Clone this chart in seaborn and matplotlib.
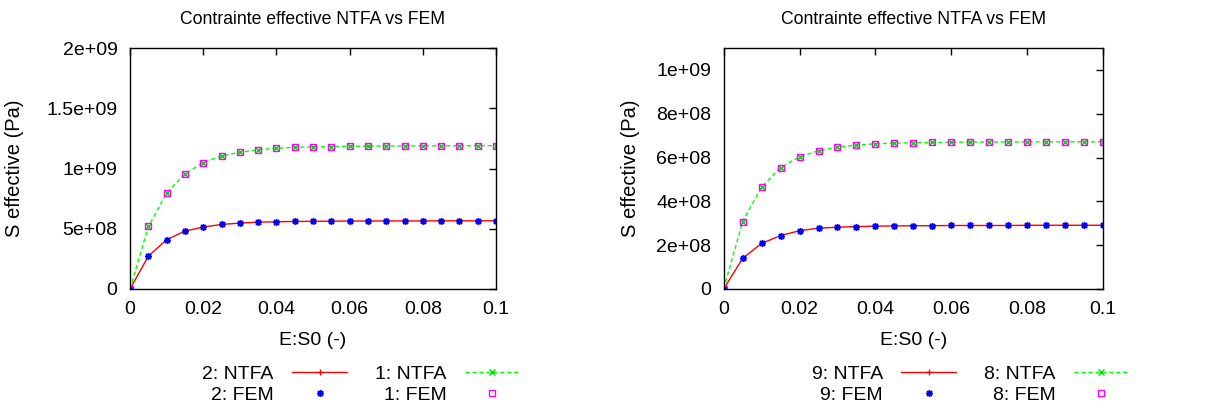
import seaborn as sns
import matplotlib.pyplot as plt
import numpy as np


# Donnees (deformation E:S0 et contrainte effective en Pa)

strain = [0.0, 0.005, 0.01, 0.015, 0.02, 0.025, 0.03, 0.035, 0.04, 0.045, 0.05,
          0.055, 0.06, 0.065, 0.07, 0.075, 0.08, 0.085, 0.09, 0.095, 0.1]

# panneau gauche : grains 2 et 1
ntfa_2 = [0, 0.273, 0.409, 0.481, 0.514, 0.536, 0.547, 0.555, 0.558, 0.561, 0.562,
          0.563, 0.564, 0.564, 0.565, 0.565, 0.565, 0.566, 0.566, 0.566, 0.566]
fem_2 = [0, 0.273, 0.409, 0.481, 0.514, 0.536, 0.547, 0.555, 0.558, 0.561, 0.562,
         0.563, 0.564, 0.564, 0.565, 0.565, 0.565, 0.566, 0.566, 0.566, 0.566]
ntfa_1 = [0, 0.519, 0.796, 0.956, 1.050, 1.105, 1.135, 1.155, 1.168, 1.177, 1.180,
          1.183, 1.185, 1.186, 1.187, 1.188, 1.188, 1.189, 1.189, 1.190, 1.190]
fem_1 = [0, 0.519, 0.796, 0.956, 1.050, 1.105, 1.135, 1.155, 1.168, 1.177, 1.180,
         1.183, 1.185, 1.186, 1.187, 1.188, 1.188, 1.189, 1.189, 1.190, 1.190]

# panneau droit : grains 9 et 8
ntfa_9 = [0, 0.140, 0.208, 0.244, 0.266, 0.278, 0.282, 0.285, 0.287, 0.288, 0.289,
          0.289, 0.290, 0.290, 0.290, 0.290, 0.291, 0.291, 0.291, 0.291, 0.291]
fem_9 = [0, 0.140, 0.208, 0.244, 0.266, 0.278, 0.282, 0.285, 0.287, 0.288, 0.289,
         0.289, 0.290, 0.290, 0.290, 0.290, 0.291, 0.291, 0.291, 0.291, 0.291]
ntfa_8 = [0, 0.308, 0.466, 0.554, 0.604, 0.631, 0.648, 0.657, 0.663, 0.666, 0.668,
          0.669, 0.670, 0.671, 0.671, 0.671, 0.672, 0.672, 0.672, 0.672, 0.672]
fem_8 = [0, 0.308, 0.466, 0.554, 0.604, 0.631, 0.648, 0.657, 0.663, 0.666, 0.668,
         0.669, 0.670, 0.671, 0.671, 0.671, 0.672, 0.672, 0.672, 0.672, 0.672]

xticks = [0, 0.02, 0.04, 0.06, 0.08, 0.1]
xtick_labels = ["0", "0.02", "0.04", "0.06", "0.08", "0.1"]
yticks_left = [0, 0.5e9, 1e9, 1.5e9, 2e9]
ytick_labels_left = ["0", "5e+08", "1e+09", "1.5e+09", "2e+09"]
yticks_right = [0, 2e8, 4e8, 6e8, 8e8, 1e9]
ytick_labels_right = ["0", "2e+08", "4e+08", "6e+08", "8e+08", "1e+09"]

title = "Contrainte effective NTFA vs FEM"


sns.set_theme(style="white")
plt.rcParams["font.family"] = ["Liberation Sans", "DejaVu Sans"]
plt.rcParams["text.color"] = "black"
plt.rcParams["axes.labelcolor"] = "black"
plt.rcParams["xtick.color"] = "black"
plt.rcParams["ytick.color"] = "black"

fig = plt.figure(figsize=(12.11, 4.09), dpi=100)


def panneau(rect, lab_a, ntfa_a, fem_a, lab_b, ntfa_b, fem_b,
            yticks, ylabels, ymax, ylab_x, leg_x):
    ax = fig.add_axes(rect)
    e = np.array(strain)
    sns.lineplot(x=e, y=np.array(ntfa_a) * 1e9, ax=ax, color="#ff0000", lw=1.0,
                 marker="+", markersize=5, markeredgecolor="#ff0000",
                 markeredgewidth=1.0, label=lab_a + ": NTFA")
    sns.lineplot(x=e, y=np.array(ntfa_b) * 1e9, ax=ax, color="#00ff00", lw=1.0,
                 linestyle=(0, (3, 2)), marker="x", markersize=4,
                 markeredgecolor="#00dd00", markeredgewidth=1.0,
                 label=lab_b + ": NTFA")
    sns.lineplot(x=e, y=np.array(fem_a) * 1e9, ax=ax, color="#0000ff",
                 linestyle="none", marker=(8, 2, 0), markersize=5,
                 markeredgecolor="#0000ff", markeredgewidth=1.0,
                 label=lab_a + ": FEM")
    sns.lineplot(x=e, y=np.array(fem_b) * 1e9, ax=ax, color="#ff00ff",
                 linestyle="none", marker="s", markersize=4.5,
                 markerfacecolor="none", markeredgecolor="#ff00ff",
                 markeredgewidth=1.0, label=lab_b + ": FEM")

    ax.set_xlim(0, 0.1)
    ax.set_ylim(0, ymax)
    ax.set_xticks(xticks)
    ax.set_xticklabels(xtick_labels)
    ax.set_yticks(yticks)
    ax.set_yticklabels(ylabels)
    ax.tick_params(direction="in", length=5, width=1, top=True, right=True,
                   labelsize=14, pad=9, colors="black")
    for s in ax.spines.values():
        s.set_color("black")
        s.set_linewidth(1.0)

    ax.set_title(title, fontsize=12.7, pad=17)
    ax.set_xlabel("E:S0 (-)", fontsize=14)
    ax.set_ylabel("S effective (Pa)", fontsize=14.5)
    ax.xaxis.set_label_coords(0.5, -0.18)
    ax.yaxis.set_label_coords(ylab_x, 0.5)

    handles, labels = ax.get_legend_handles_labels()
    order = [0, 2, 1, 3]
    ax.legend([handles[i] for i in order], [labels[i] for i in order],
              ncol=2, markerfirst=False, frameon=False, fontsize=14,
              handlelength=2.8, handletextpad=0.95, columnspacing=1.45,
              labelspacing=0.2, borderpad=0, loc="center",
              bbox_to_anchor=(leg_x, 0.06), bbox_transform=fig.transFigure)
    return ax


panneau([0.1074, 0.2934, 0.3022, 0.589], "2", ntfa_2, fem_2, "1", ntfa_1, fem_1,
        yticks_left, ytick_labels_left, 2e9, -0.29, 0.298)
panneau([0.5976, 0.2934, 0.3132, 0.589], "9", ntfa_9, fem_9, "8", ntfa_8, fem_8,
        yticks_right, ytick_labels_right, 1.1e9, -0.221, 0.801)

fig.savefig("out.png", dpi=100)
